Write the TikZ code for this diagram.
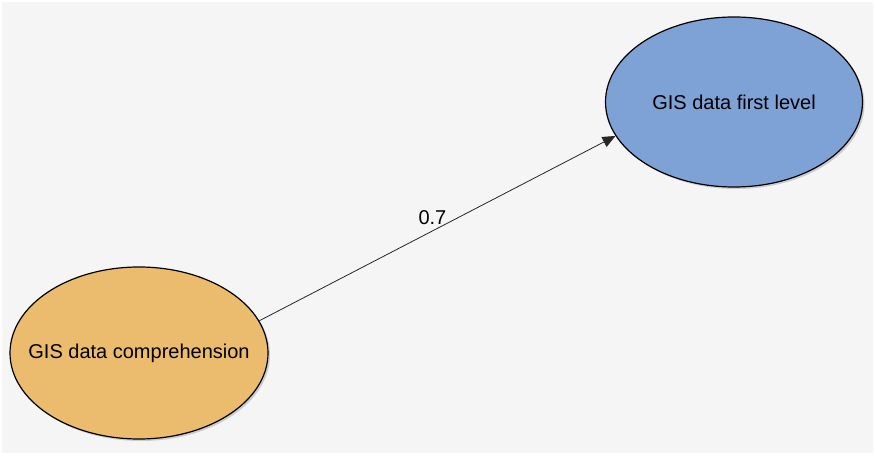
\documentclass[tikz,border=0pt]{standalone}
\usepackage{fontspec}
\setmainfont{Liberation Sans}
\usetikzlibrary{shapes,arrows.meta,shadows}

\definecolor{bggray}{RGB}{245,245,245}
\definecolor{latorange}{RGB}{235,187,110}
\definecolor{latblue}{RGB}{126,162,213}

\begin{document}
\begin{tikzpicture}[x=1pt, y=1pt, nodes = {align = center},
    latent/.style = {draw, ellipse, line width=1.2pt, inner xsep=-30pt,
      inner ysep=0pt, font=\fontsize{20}{24}\selectfont,
      drop shadow={shadow xshift=2pt, shadow yshift=-2pt, opacity=0.35}}]
    \fill[white] (0,0) rectangle (875,455);
    \fill[bggray] (2,2) rectangle (873,453);
    \useasboundingbox (0,0) rectangle (875,455);

    \node (comp) [latent, fill=latorange, minimum width=258pt,
    minimum height=172pt] at (139,102) {GIS data comprehension};

    \node (first) [latent, fill=latblue, minimum width=257pt,
    minimum height=170pt] at (734,353) {GIS data first level};

    \draw[-{Triangle[length=13pt,width=11pt]},line width=0.8pt,draw=black!85]
    (comp.15.8) -- node[pos=0.486, above=3pt,
    font=\fontsize{20}{24}\selectfont] {0.7} (first.196.8);
  \end{tikzpicture}
\end{document}
